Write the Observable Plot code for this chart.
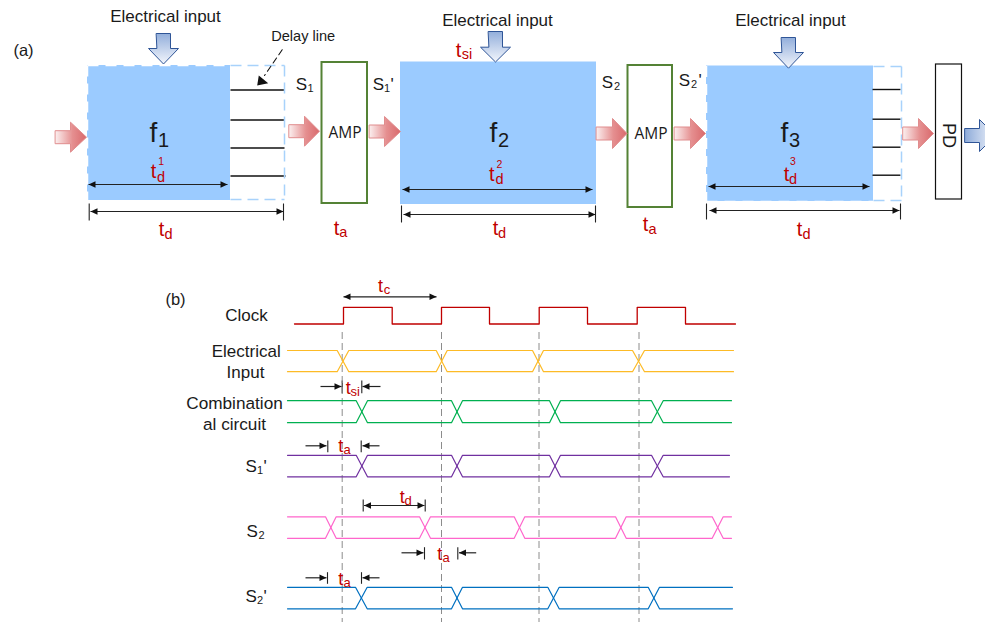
<!DOCTYPE html>
<html><head><meta charset="utf-8">
<script src="https://cdn.jsdelivr.net/npm/d3@7"></script>
<script src="https://cdn.jsdelivr.net/npm/@observablehq/plot@0.6"></script>
<style>html,body{margin:0;padding:0;background:#fff;overflow:hidden}svg{display:block}</style>
</head><body><div id="chart"></div>
<script>
const RED="#c00000", INK="#1a1a1a", BLUE="#9bcbff", DASH="#a8d2fb";
// ---- part (a) blocks
const blocks=[{x1:87,x2:230,y1:65,y2:200},{x1:400,x2:596,y1:61.5,y2:204},{x1:706,x2:873,y1:65.5,y2:201}];
const ampBoxes=[{x1:321.5,x2:367,y1:62,y2:203},{x1:627.5,x2:672,y1:65,y2:207}];
const pdBox=[{x1:935.5,x2:961.5,y1:64,y2:199}];
const delayLines=[[230,284,89.5],[230,284,119.5],[230,284,147.5],[230,285,175.5],[872,900,89],[872,900,118.7],[872,900,146.7],[872,900,174.7]];
const whiteDashes=[[87,65,230,65],[87,65,87,200],[706,201,873,201],[706,65.5,706,201]];
const blueDashes=[[230,65,284,65],[284,65,284,199],[230,199,284,199],[873,66,901,66],[901,66,901,201],[873,200,901,200]];
// ---- arrows: [tail, head start, tip, centre]
const redArrows=[[55,70,86,136.7],[288.7,304,319,130.7],[369,384,400,131],[596,612,626.5,133],[674,690,705,133],[902.6,918,933,133]];
const downArrows=[[163,33,48,63.5],[495,31,46.7,61.5],[788,37,52,67.7]];
const rightBlueArrow=[[964.5,979,995,135]];
// ---- dimension lines: [x1,x2,y,start head?,end head?]
const dims=[[88,227,184,1,1],[90,283,211,1,1],[402,592,189,1,1],[403,595,214,1,1],[708,869,186,1,1],[709,899,210,1,1],
 [343,436,296.3,1,1],[320,341,386,0,1],[380,362,386,0,1],[305,326,445.3,0,1],[379,362,445.3,0,1],
 [363.5,424,505,1,1],[401,423,552.3,0,1],[475.7,458.5,552.3,0,1],[305,326,577.3,0,1],[379,362,577.3,0,1]];
const dimTicks=[[88.7,203,220],[283,203,220],[401,205,222],[595,205,222],[706,203,219],[900,203,219],
 [341.7,380,392.7],[361.3,380,392.7],[327.3,440,451.7],[360.7,440,451.7],[362.7,499,511],[424.7,499,511],
 [424,546.7,559],[457.3,546.7,559],[327,571.7,583.3],[361,571.7,583.3]];
const leader=[[281.7,49.3],[264,75]];
const leaderHead=[[267.7,82.7],[256.7,85],[258.3,75]];
// ---- part (b) waveforms
const clockX=[294,343,391.7,441,489,538.7,587,636.7,685,735];
const clockLevels=[323.5,306.8];
const traces=[
 {name:"Electrical Input",c:"#fdbb26",hi:350,lo:371.2,x0:287,x1:733,cross:[[336.7,348.3],[435.7,446.7],[532,543],[632,644]]},
 {name:"Combinational circuit",c:"#00b050",hi:400.2,lo:422.2,x0:287,x1:731,cross:[[355.7,367],[451,462],[549,560],[651,662.7]]},
 {name:"S1'",c:"#7030a0",hi:454.8,lo:476.3,x0:287,x1:729,cross:[[355.7,367],[451,462],[549,560],[651,662.7]]},
 {name:"S2",c:"#ff66cc",hi:516.3,lo:537.8,x0:287,x1:731,cross:[[325,335.7],[419,430],[513.7,524.3],[615,625.7],[711.7,722.7]]},
 {name:"S2'",c:"#0070c0",hi:586.8,lo:608.3,x0:287,x1:732,cross:[[355,366.7],[451,462],[547.3,558.7],[647.7,659]]}
];
const guideX=[341.7,441,538.5,638.5];
const guideY=[331.5,622];
// ---- text: [x,baseline,text,size,colour]
const labels=[
 [165,21,"Electrical input",17,INK],[497,25,"Electrical input",17,INK],[790,25,"Electrical input",17,INK],
 [23,55,"(a)",16.5,INK],[302.7,40,"Delay line",14.6,INK],
 [301,89,"S",17,INK],[310,91,"1",11,INK],[378,89,"S",17,INK],[386.5,91,"1",11,INK],[391.7,89,"'",17,INK],
 [607,87,"S",17,INK],[616.5,89.5,"2",11,INK],[684,85,"S",17,INK],[693.5,87.5,"2",11,INK],[699.5,85,"'",17,INK],
 [153,141.7,"f",28,INK],[163,146,"1",20,INK],[493,141.7,"f",28,INK],[503,146,"2",20,INK],[784,141.7,"f",28,INK],[794,146,"3",20,INK],
 [153,177,"t",20,RED],[160.5,181,"d",14.5,RED],[160.7,164,"1",10.5,RED],
 [491.4,180,"t",20,RED],[499,183,"d",14.5,RED],[499,167,"2",10.5,RED],
 [786,180,"t",20,RED],[792.5,183,"d",14.5,RED],[792.5,164,"3",10.5,RED],
 [161,235,"t",20,RED],[168,238.5,"d",14.5,RED],[336,234,"t",20,RED],[342.7,236.5,"a",14.5,RED],
 [458,56.7,"t",20,RED],[466.4,58.5,"si",14.5,RED],
 [495,234,"t",20,RED],[501.5,237,"d",14.5,RED],[645,230.7,"t",20,RED],[652,233,"a",14.5,RED],
 [799,235,"t",20,RED],[806,238.5,"d",14.5,RED],
 [175,304,"(b)",16.5,INK],[246,320,"Clock",17,INK],[245.7,356.7,"Electrical",17,INK],[245,377.7,"Input",17,INK],
 [234,408,"Combination",17.2,INK],[234,429,"al circuit",17.2,INK],
 [380,291.7,"t",18,RED],[386.5,293,"c",13,RED],[347.7,393,"t",18,RED],[354.8,395,"si",13,RED],
 [340.3,451,"t",18,RED],[346.7,453,"a",13,RED],[401.7,502.7,"t",18,RED],[407.5,504.5,"d",13,RED],
 [439.3,559,"t",18,RED],[445.5,561,"a",13,RED],[340.3,584,"t",18,RED],[346.7,586,"a",13,RED],
 [250.7,471,"S",17,INK],[259.5,473,"1",11,INK],[264.5,471,"'",17,INK],
 [251.7,536,"S",17,INK],[261,538,"2",11,INK],
 [250.7,601.3,"S",17,INK],[259.5,603.5,"2",11,INK],[264.5,601.3,"'",17,INK]
];
const ampLabels=[[344.5,137.6,"AMP"],[650.5,138,"AMP"]];
const pdLabel=[[948,135,"PD"]];

// ---- derived mark data
const redPoly=redArrows.flatMap(([a,b,c,y],id)=>[[a,y-6.5],[b,y-6.5],[b,y-15],[c,y],[b,y+15],[b,y+6.5],[a,y+6.5]].map(p=>({id,x:p[0],y:p[1]})));
const downPoly=downArrows.flatMap(([x,a,b,c],id)=>[[x-7,a],[x+7,a],[x+7,b],[x+15,b],[x,c],[x-15,b],[x-7,b]].map(p=>({id,x:p[0],y:p[1]})));
const rightPoly=rightBlueArrow.flatMap(([a,b,c,y],id)=>[[a,y-7],[b,y-7],[b,y-16],[c,y],[b,y+16],[b,y+7],[a,y+7]].map(p=>({id,x:p[0],y:p[1]})));
const heads=dims.flatMap(([a,b,y,s,e],i)=>{const d=Math.sign(b-a),out=[];
 const tri=(tip,dir,id)=>[[tip,y],[tip-dir*7,y-3.2],[tip-dir*7,y+3.2]].map(p=>({id,x:p[0],y:p[1]}));
 if(s)out.push(...tri(a,-d,i+"s")); if(e)out.push(...tri(b,d,i+"e")); return out;});
const clockPts=clockX.flatMap((x,i)=>i==0?[[x,clockLevels[0]]]:i==clockX.length-1?[[x,clockLevels[(i+1)%2]]]:[[x,clockLevels[(i+1)%2]],[x,clockLevels[i%2]]]).map(p=>({x:p[0],y:p[1]}));
const tracePts=traces.flatMap(t=>[t.hi,t.lo].flatMap((start,k)=>{let cur=start;const pts=[[t.x0,cur]];
   t.cross.forEach(([p,q])=>{const nxt=cur==t.hi?t.lo:t.hi;pts.push([p,cur],[q,nxt]);cur=nxt;});
   pts.push([t.x1,cur]);return pts.map(pt=>({k:t.name+k,c:t.c,x:pt[0],y:pt[1]}));}));
const seg=(arr,st)=>Plot.link(arr,{x1:d=>d[0],y1:d=>d[1],x2:d=>d[2],y2:d=>d[3],...st});
const gradient=(id,horizontal,stops)=>{const g=d3.create("svg:linearGradient").attr("id",id).attr("x1",0).attr("y1",0).attr("x2",horizontal?1:0).attr("y2",horizontal?0:1);
 stops.forEach(([o,c])=>g.append("stop").attr("offset",o).attr("stop-color",c));return g.node();};
const defs=()=>{const d=d3.create("svg:defs");
 d.append(()=>gradient("gRed",true,[[0,"#fbeeee"],[.55,"#e58f90"],[1,"#d9696c"]]));
 d.append(()=>gradient("gBlue",false,[[0,"#92aedb"],[1,"#f3f6fc"]]));
 d.append(()=>gradient("gBlueH",true,[[0,"#8eabd9"],[1,"#f3f6fc"]]));
 return d.node();};
const text=(arr,st)=>Plot.text(arr,{x:d=>d[0],y:d=>d[1],text:d=>d[2],lineAnchor:"bottom",fontFamily:"Liberation Sans, Arial, sans-serif",...st});

const plot=Plot.plot({
 width:985,height:622,margin:0,
 x:{domain:[0,985],axis:null},y:{domain:[622,0],axis:null},color:{type:"identity"},
 marks:[
  defs,
  Plot.rect(blocks,{x1:"x1",x2:"x2",y1:"y1",y2:"y2",fill:BLUE}),
  seg(delayLines.map(d=>[d[0],d[2],d[1],d[2]]),{stroke:"#111",strokeWidth:1.4}),
  seg(whiteDashes,{stroke:"#fff",strokeWidth:1.5,strokeDasharray:"11,7"}),
  seg(blueDashes,{stroke:DASH,strokeWidth:1.5,strokeDasharray:"11,6"}),
  Plot.rect(ampBoxes,{x1:"x1",x2:"x2",y1:"y1",y2:"y2",fill:"#fff",stroke:"#548235",strokeWidth:2}),
  Plot.rect(pdBox,{x1:"x1",x2:"x2",y1:"y1",y2:"y2",fill:"#fff",stroke:"#111",strokeWidth:1.2}),
  Plot.line(redPoly,{x:"x",y:"y",z:"id",curve:"linear-closed",fill:"url(#gRed)",stroke:"#e08d8e",strokeWidth:1}),
  Plot.line(downPoly,{x:"x",y:"y",z:"id",curve:"linear-closed",fill:"url(#gBlue)",stroke:"#2f5597",strokeWidth:1}),
  Plot.line(rightPoly,{x:"x",y:"y",z:"id",curve:"linear-closed",fill:"url(#gBlueH)",stroke:"#2f5597",strokeWidth:1}),
  seg(dims.map(d=>[d[0],d[2],d[1],d[2]]),{stroke:"#222",strokeWidth:1.2}),
  Plot.line(heads,{x:"x",y:"y",z:"id",curve:"linear-closed",fill:"#111",stroke:"none"}),
  seg(dimTicks.map(d=>[d[0],d[1],d[0],d[2]]),{stroke:"#222",strokeWidth:1.1}),
  Plot.line(leader,{x:d=>d[0],y:d=>d[1],stroke:"#111",strokeWidth:1.1,strokeDasharray:"6,4"}),
  Plot.line(leaderHead,{x:d=>d[0],y:d=>d[1],curve:"linear-closed",fill:"#111",stroke:"none"}),
  seg(guideX.map(x=>[x,guideY[0],x,guideY[1]]),{stroke:"#8c8c8c",strokeWidth:1,strokeDasharray:"7,4"}),
  Plot.line(clockPts,{x:"x",y:"y",stroke:RED,strokeWidth:1.3}),
  Plot.line(tracePts,{x:"x",y:"y",z:"k",stroke:"c",strokeWidth:1.2}),
  text(labels,{fontSize:d=>d[3],fill:d=>d[4]}),
  text(ampLabels,{fontSize:15.5,fill:INK,fontFamily:"Open Sans, sans-serif"}),
  text(pdLabel,{fontSize:18,fill:INK,rotate:90,lineAnchor:"middle"})
 ]
});
document.getElementById("chart").append(plot);
</script></body></html>
